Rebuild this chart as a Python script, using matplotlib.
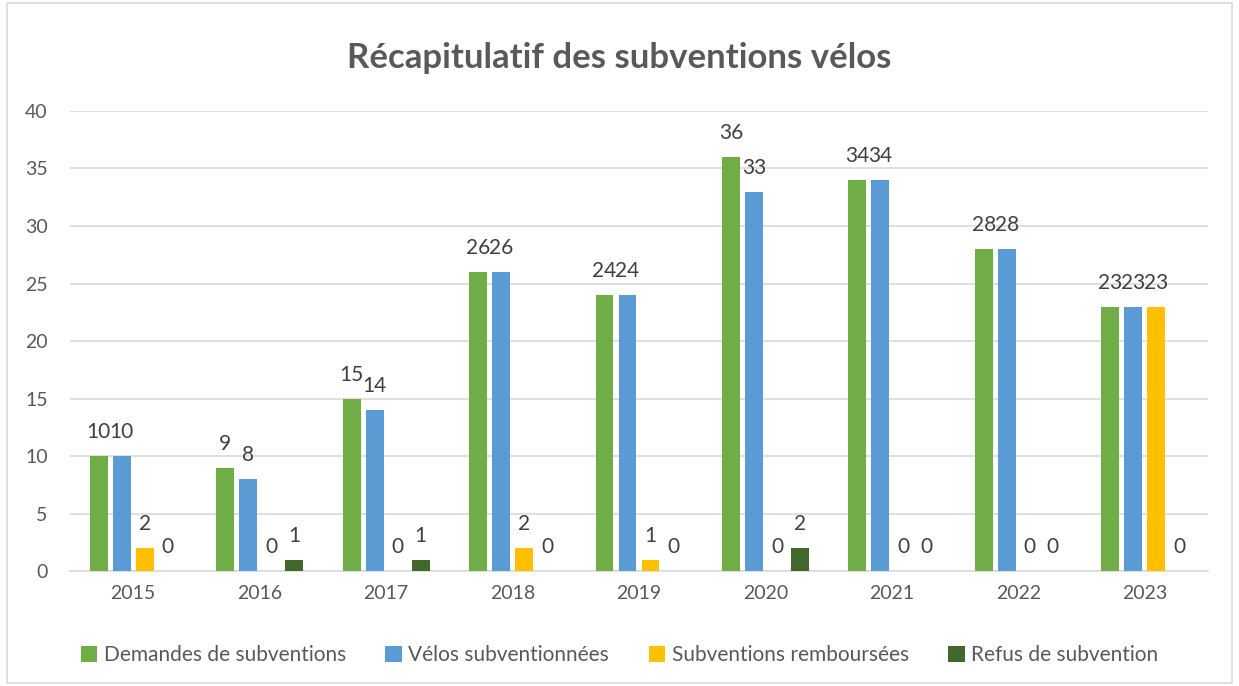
import numpy as np
import matplotlib.pyplot as plt
from matplotlib.patches import Rectangle

annees = ['2015', '2016', '2017', '2018', '2019', '2020', '2021', '2022', '2023']
demandes = [10, 9, 15, 26, 24, 36, 34, 28, 23]
velos = [10, 8, 14, 26, 24, 33, 34, 28, 23]
rembourses = [2, 0, 0, 2, 1, 0, 0, 0, 23]
refus = [0, 1, 1, 0, 0, 2, 0, 0, 0]
noms = ['Demandes de subventions', 'Vélos subventionnées',
        'Subventions remboursées', 'Refus de subvention']
couleurs = ['#70AD47', '#5B9BD5', '#FFC000', '#43682B']

gris = '#595959'
plt.rcParams['font.family'] = ['Lato', 'DejaVu Sans']

fig = plt.figure(figsize=(12.39, 6.86), dpi=100)
ax = fig.add_axes([0.0565, 0.1676, 0.9185, 0.6706])

x = np.arange(len(annees))
pas = 0.182
larg = 0.142
series = [demandes, velos, rembourses, refus]
for i, (vals, nom, c) in enumerate(zip(series, noms, couleurs)):
    pos = x + (i - 1.5) * pas
    ax.bar(pos, vals, larg, color=c, label=nom, zorder=3)
    for p, v in zip(pos, vals):
        ax.annotate(str(v), (p, v), xytext=(0, 10), textcoords='offset points',
                    ha='center', va='bottom', fontsize=15, color='#404040')

ax.set_xlim(-0.5, len(annees) - 0.5)
ax.set_ylim(0, 40)
ax.set_yticks(range(0, 41, 5))
ax.set_xticks(x)
ax.set_xticklabels(annees)
ax.tick_params(axis='both', length=0, labelsize=14, colors=gris)
ax.tick_params(axis='y', pad=16)
ax.tick_params(axis='x', pad=10)
ax.grid(axis='y', color='#D9D9D9', linewidth=1.2, zorder=0)
for s in ['top', 'right', 'left']:
    ax.spines[s].set_visible(False)
ax.spines['bottom'].set_color('#D9D9D9')
ax.spines['bottom'].set_linewidth(1.2)

fig.text(0.5, 0.915, 'Récapitulatif des subventions vélos', ha='center', va='center',
         fontsize=25, fontweight='bold', color=gris)

leg = fig.legend(loc='center', bbox_to_anchor=(0.5, 0.045), ncol=4, frameon=False,
                 fontsize=15, handlelength=0.8, handleheight=0.8, handletextpad=0.3,
                 columnspacing=1.9)
for t in leg.get_texts():
    t.set_color(gris)

fig.patches.append(Rectangle((0.006, 0.004), 0.988, 0.992, transform=fig.transFigure,
                             fill=False, edgecolor='#D9D9D9', linewidth=1.2))

fig.savefig('out.png', dpi=100)
